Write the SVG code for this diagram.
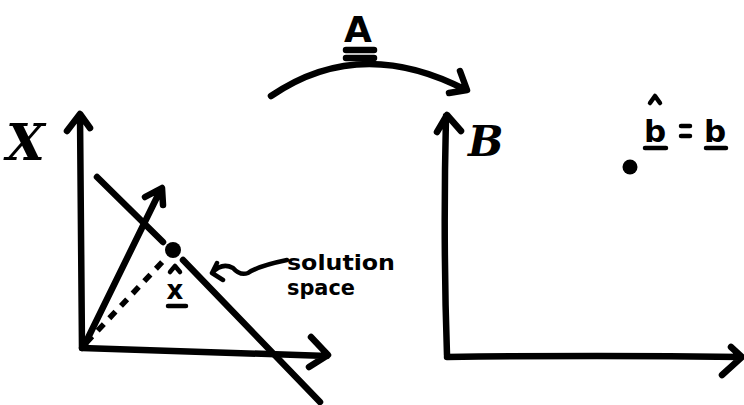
<svg xmlns="http://www.w3.org/2000/svg" width="744" height="405" viewBox="0 0 744 405">
<style>
.s{fill:none;stroke:#000;stroke-width:6.5;stroke-linecap:round;stroke-linejoin:round}
.t{stroke-width:4.5}
.d{stroke-dasharray:9 8;stroke-linecap:butt;stroke-width:5.5}
.hand{font-family:"DejaVu Sans","Liberation Sans",sans-serif;font-weight:bold;fill:#000}
.ser{font-family:"DejaVu Serif","Liberation Serif",serif;font-weight:bold;font-style:italic;fill:#000}
</style>
<rect width="744" height="405" fill="#fff"/>
<g id="plotX">
  <path class="s" d="M82,348 L80,115 M67,131 L80,114 L90,128"/>
  <path class="s" d="M82,348 Q200,352 327,356 M311,337 L328,355 L309,367"/>
  <text class="ser" x="6" y="160" font-size="50">X</text>
</g>
<g id="solution-space">
  <path class="s" d="M97,177 L163,242 M183,260 L320,402"/>
  <text class="hand" x="287" y="270" font-size="21" textLength="108" lengthAdjust="spacingAndGlyphs">solution</text>
  <text class="hand" x="287" y="295" font-size="21" textLength="68" lengthAdjust="spacingAndGlyphs">space</text>
</g>
<g id="xhat">
  <circle cx="173" cy="250" r="8" fill="#000"/>
  <text class="hand" x="175" y="299" font-size="26" text-anchor="middle">x</text>
  <path class="s t" d="M170,272 L175,266 L180,272 M168,306 L186,306"/>
</g>
<g id="plotB">
  <path class="s" d="M447,355 Q443,240 446,116 M437,132 L447,115 L461,131"/>
  <path class="s" d="M447,357 Q600,355 741,357 M731,347 L742,357 L722,375"/>
  <text class="ser" x="468" y="156" font-size="42">B</text>
</g>
<g id="bhat">
  <circle cx="630" cy="167" r="7.5" fill="#000"/>
  <text class="hand" x="655" y="142" font-size="31" text-anchor="middle">b</text>
  <path class="s t" d="M650,103 L655,96 L660,103 M645,148 L666,148"/>
  <path class="s t" d="M681,126 L690,126 M681,136 L690,136"/>
  <text class="hand" x="715" y="142" font-size="31" text-anchor="middle">b</text>
  <path class="s t" d="M706,148 L726,148"/>
</g>
<g id="labelA">
  <text class="hand" x="358" y="42" font-size="36" text-anchor="middle">A</text>
  <path class="s" d="M346,50 L374,50 M346,58 L374,58"/>
</g>
<g id="connectors">
  <path class="s" d="M84,346 L161,189 M145,197 L162,188 L163,205"/>
  <path class="s d" d="M86,343 L167,257"/>
  <path class="s t" d="M212,273 Q222,262 233,268 Q240,276 248,273 Q258,266 287,260 M217,263 L212,273 L223,280"/>
  <path class="s" d="M271,96 Q360,35 466,90 M460,71 L467,90 L449,93"/>
</g>
</svg>
